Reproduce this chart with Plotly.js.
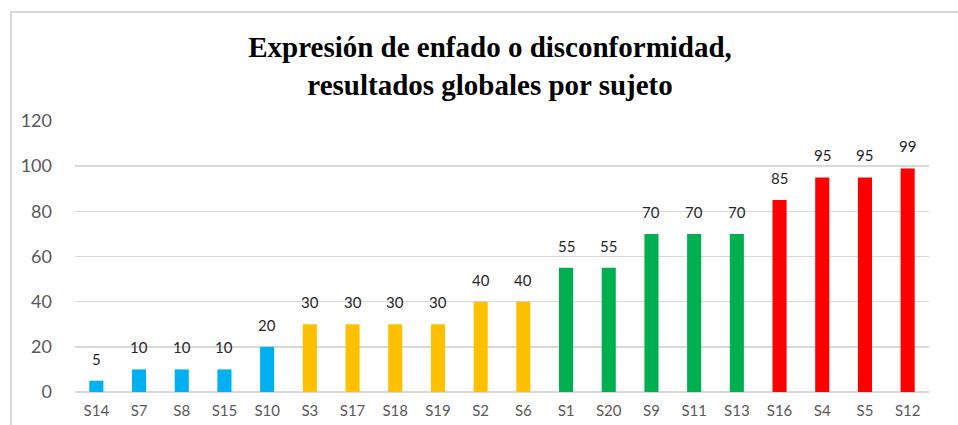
<!DOCTYPE html>
<html><head><meta charset="utf-8">
<script src="https://cdn.plot.ly/plotly-3.0.1.min.js"></script>
<style>html,body{margin:0;padding:0;background:#fff;}#c{width:958px;height:425px;}</style>
</head><body><div id="c"></div>
<script>
const subjects = ["S14","S7","S8","S15","S10","S3","S17","S18","S19","S2","S6","S1","S20","S9","S11","S13","S16","S4","S5","S12"];
const scores = [5,10,10,10,20,30,30,30,30,40,40,55,55,70,70,70,85,95,95,99];
const groupColors = ["#00B0F0","#00B0F0","#00B0F0","#00B0F0","#00B0F0","#FFC000","#FFC000","#FFC000","#FFC000","#FFC000","#FFC000","#00B050","#00B050","#00B050","#00B050","#00B050","#FF0000","#FF0000","#FF0000","#FF0000"];
const yTicks = [0,20,40,60,80,100,120];
const titleText = "Expresión de enfado o disconformidad,<br>resultados globales por sujeto";

const W = 958, H = 425, L = 75, R = 29, T = 121, B = 33;
const pw = W - L - R, ph = H - T - B;
const px = x => (x - L) / pw;
const py = y => (H - B - y) / ph;

const trace = {
  type: "bar",
  x: subjects,
  y: scores,
  marker: {color: groupColors},
  width: 0.33,
  hoverinfo: "none"
};

const labels = subjects.map((s, i) => ({
  x: s, y: scores[i], xref: "x", yref: "y",
  text: String(scores[i]), showarrow: false,
  xanchor: "center", yanchor: "middle", yshift: 22,
  font: {family: "Lato, 'Liberation Sans', sans-serif", size: 15, color: "#262626"}
}));

const layout = {
  width: W, height: H,
  margin: {l: L, r: R, t: T, b: B, pad: 0},
  paper_bgcolor: "#fff", plot_bgcolor: "#fff",
  showlegend: false,
  title: {
    text: "<b>" + titleText + "</b>",
    font: {family: "'Liberation Serif', 'Times New Roman', serif", size: 29, color: "#000"},
    x: 0.486, xanchor: "center", xref: "paper",
    y: 0.866, yanchor: "middle", yref: "container"
  },
  xaxis: {
    type: "category",
    showgrid: false, zeroline: false, showline: false, ticks: "",
    tickfont: {family: "Lato, 'Liberation Sans', sans-serif", size: 15, color: "#595959"},
    ticklabelstandoff: 8
  },
  yaxis: {
    range: [0, 120], tickvals: yTicks, ticktext: yTicks.map(String),
    showgrid: true, gridcolor: "#d9d9d9", gridwidth: 1.5,
    zeroline: true, zerolinecolor: "#d9d9d9", zerolinewidth: 1.5,
    showline: false, ticks: "",
    tickfont: {family: "Lato, 'Liberation Sans', sans-serif", size: 18, color: "#595959"},
    ticklabelstandoff: 22
  },
  bargap: 0.67,
  annotations: labels,
  shapes: [
    {type: "line", xref: "paper", yref: "paper", x0: px(11), x1: px(11), y0: py(12), y1: py(430), line: {color: "#d9d9d9", width: 2}},
    {type: "line", xref: "paper", yref: "paper", x0: px(10), x1: px(970), y0: py(12), y1: py(12), line: {color: "#d9d9d9", width: 2}}
  ]
};

Plotly.newPlot("c", [trace], layout, {staticPlot: true, displayModeBar: false});
</script></body></html>
